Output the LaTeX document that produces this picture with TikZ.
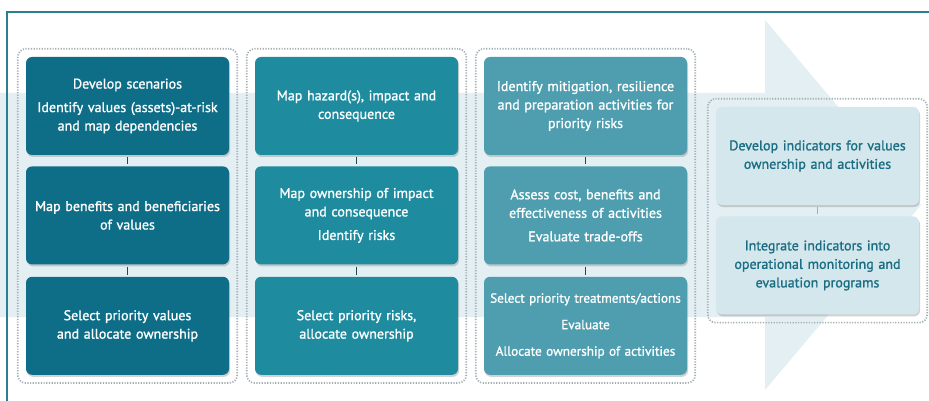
\documentclass[tikz,border=0pt]{standalone}
\usepackage{fontspec}
\setmainfont{PT Sans}[FakeBold=1.2]
\usetikzlibrary{positioning,fit,shadows}

\definecolor{frameteal}{HTML}{2A7F8F}
\definecolor{arrowblue}{HTML}{E3EFF2}
\definecolor{stepone}{HTML}{0F6E87}
\definecolor{steptwo}{HTML}{1E8C9E}
\definecolor{stepthree}{HTML}{4E9EB0}
\definecolor{stepfour}{HTML}{D3E7ED}
\definecolor{textfour}{HTML}{1A6D82}
\definecolor{dotgray}{HTML}{A3AEB2}
\definecolor{linkdark}{HTML}{1E4A55}

\tikzset{
  stepbox/.style={rectangle, rounded corners=6pt, minimum width=203pt,
    minimum height=98pt, text width=203pt, inner sep=0pt, align=center,
    text=white, font=\fontsize{14}{18.5}\selectfont,
    drop shadow={opacity=0.35, shadow xshift=1pt, shadow yshift=-2pt}},
  groupframe/.style={draw=dotgray, line width=1.7pt, rounded corners=8pt,
    dash pattern=on 1.2pt off 1.5pt, inner sep=8pt},
  link/.style={draw=linkdark, line width=1.3pt, shorten <=2pt, shorten >=2pt}
}

\begin{document}
\begin{tikzpicture}[x=1pt, y=-1pt]
  \useasboundingbox (0,0) rectangle (929,401);
  \fill[white] (0,0) rectangle (929,401);

  % Pfeil im Hintergrund
  \fill[arrowblue] (0,93) -- (765,93) -- (765,20) -- (921,205)
    -- (765,390) -- (765,317) -- (0,317) -- cycle;

  % Rahmen
  \draw[frameteal, line width=1.6pt] (929,12) -- (7,12) -- (7,401);

  % Spalte 1: Werte
  \node[stepbox, fill=stepone] (a1) at (127.5,106)
    {Develop scenarios\\[5pt]Identify values (assets)-at-risk\\and map dependencies};
  \node[stepbox, fill=stepone, below=11pt of a1] (a2)
    {Map benefits and beneficiaries\\of values};
  \node[stepbox, fill=stepone, below=12pt of a2] (a3)
    {Select priority values\\and allocate ownership};

  % Spalte 2: Risiken
  \node[stepbox, fill=steptwo] (b1) at (356.5,106)
    {Map hazard(s), impact and\\consequence};
  \node[stepbox, fill=steptwo, below=11pt of b1] (b2)
    {Map ownership of impact\\and consequence\\[5pt]Identify risks};
  \node[stepbox, fill=steptwo, below=12pt of b2] (b3)
    {Select priority risks,\\allocate ownership};

  % Spalte 3: Massnahmen
  \node[stepbox, fill=stepthree] (c1) at (585.5,106)
    {Identify mitigation, resilience\\and preparation activities for\\priority risks};
  \node[stepbox, fill=stepthree, below=11pt of c1] (c2)
    {Assess cost, benefits and\\effectiveness of activities\\[5pt]Evaluate trade-offs};
  \node[stepbox, fill=stepthree, below=12pt of c2, font=\fontsize{13.2}{18.5}\selectfont] (c3)
    {Select priority treatments/actions\\[8pt]Evaluate\\[8pt]Allocate ownership of activities};

  % Spalte 4: Indikatoren
  \node[stepbox, fill=stepfour, text=textfour] (d1) at (817.5,156)
    {Develop indicators for values\\ownership and activities};
  \node[stepbox, fill=stepfour, text=textfour, below=11pt of d1] (d2)
    {Integrate indicators into\\operational monitoring and\\evaluation programs};

  % Gruppen
  \node[groupframe, fit=(a1)(a3)] (ga) {};
  \node[groupframe, fit=(b1)(b3)] (gb) {};
  \node[groupframe, fit=(c1)(c3)] (gc) {};
  \node[groupframe, fit=(d1)(d2)] (gd) {};

  % Verbindungen
  \foreach \col in {a,b,c} {
    \draw[link] (\col1.south) -- (\col2.north);
    \draw[link] (\col2.south) -- (\col3.north);
  }
  \draw[link, draw=dotgray] (d1.south) -- (d2.north);
\end{tikzpicture}
\end{document}
